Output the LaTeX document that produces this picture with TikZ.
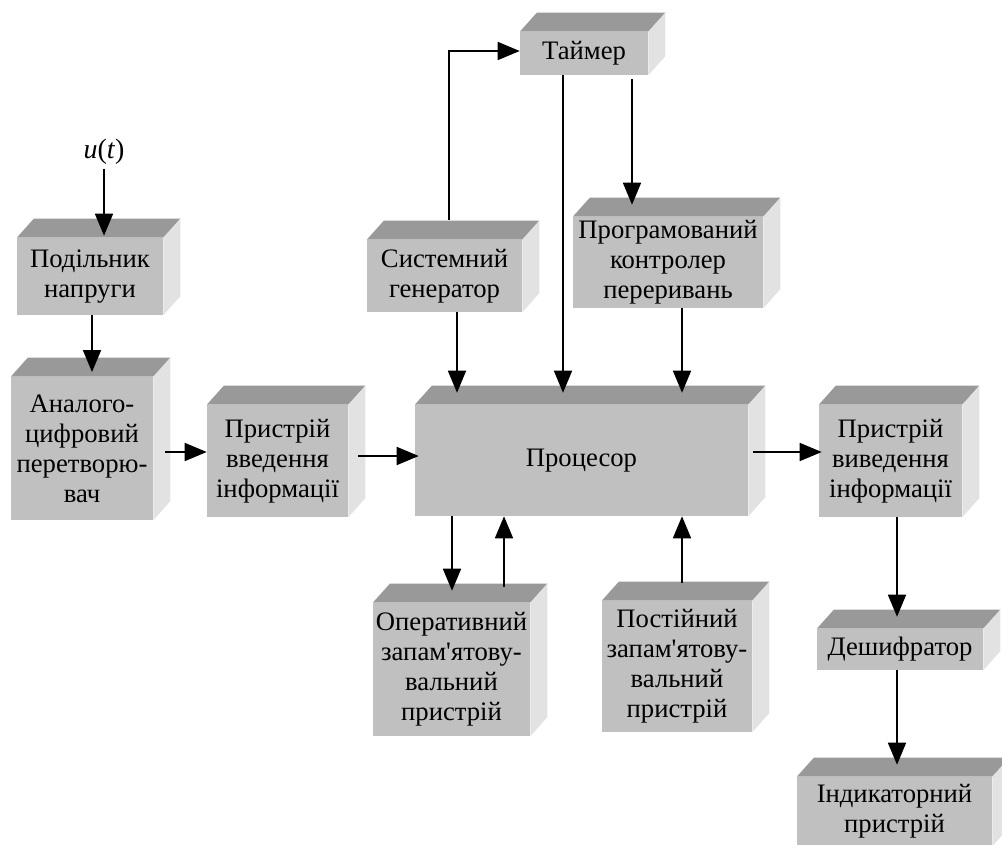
\documentclass[tikz,border=0pt]{standalone}
\usepackage{fontspec}
\setmainfont{Liberation Serif}
\usetikzlibrary{calc, arrows.meta}
\definecolor{frontgray}{HTML}{C0C0C0}
\definecolor{topgray}{HTML}{999999}
\definecolor{sidegray}{HTML}{E2E2E2}
\tikzset{
  % Set arrowhead
  >={Triangle[length=16.5pt, width=13.5pt]},
  % front face of a block, size in pixels
  blok/.style={fill=frontgray, inner sep=0pt, align=center,
    font=\fontsize{20}{22.5}\selectfont},
  wh/.style 2 args={minimum width=#1*0.75pt, minimum height=#2*0.75pt},
  % Connectors
  link/.style={->, line width=1.2pt},
  % Connector ending in a top face
  link top/.style={link, shorten >=9pt},
}
\begin{document}
\begin{tikzpicture}[x=0.75pt, y=-0.75pt]
  \useasboundingbox (0,0) rectangle (1002,845);

  \node[blok, wh={146}{77}] (pod) at (90,276.5) {Подільник\\напруги};
  \node[blok, wh={142}{143}] (adc) at (82,448.5) {Аналого-\\цифровий\\перетворю-\\вач};
  \node[blok, wh={141}{112}] (vvid) at (277.5,461) {Пристрій\\введення\\інформації};
  \node[blok, wh={333}{111}] (proc) at (581.5,460.5) {Процесор};
  \node[blok, wh={143}{112}] (vyv) at (890.5,461) {Пристрій\\виведення\\інформації};
  \node[blok, wh={128}{43}] (timer) at (584,53.5) {Таймер};
  \node[blok, wh={155}{72}] (gen) at (444.5,276) {Системний\\генератор};
  \node[blok, wh={190}{91}] (pkp) at (668,262.5) {Програмований\\контролер\\переривань};
  \node[blok, wh={157}{133}] (ozp) at (451.5,669.5) {Оперативний\\запам\textquotesingle ятову-\\вальний\\пристрій};
  \node[blok, wh={150}{131}] (pzp) at (677,666.5) {Постійний\\запам\textquotesingle ятову-\\вальний\\пристрій};
  \node[blok, wh={166}{41}] (desh) at (900,649.5) {Дешифратор};
  \node[blok, wh={195}{69}] (ind) at (894.5,811.5) {Індикаторний\\пристрій};

  % top and side faces
  \foreach \blk in {pod,adc,vvid,proc,vyv,timer,gen,pkp,ozp,pzp,desh,ind}{
    \fill[topgray] (\blk.north west) -- ++(17,-19)
      -- ([shift={(17,-19)}]\blk.north east) -- (\blk.north east) -- cycle;
    \fill[sidegray] (\blk.north east) -- ++(17,-19)
      -- ([shift={(17,-19)}]\blk.south east) -- (\blk.south east) -- cycle;
  }

  \node[font=\fontsize{21}{22.5}\selectfont] (u) at (104,152) {\textit{u}(\textit{t})};

  % line positions
  \coordinate (xpod) at (92,0);
  \coordinate (xgu) at (449,0);
  \coordinate (xg) at (457,0);
  \coordinate (xt1) at (563,0);
  \coordinate (xt2) at (632,0);
  \coordinate (xk) at (682,0);
  \coordinate (xo1) at (452,0);
  \coordinate (xo2) at (504,0);
  \coordinate (xv) at (897,0);
  \coordinate (ya) at (0,452);
  \coordinate (yv) at (0,456);
  \coordinate (yt) at (0,51);

  \draw[link, shorten >=1.5pt] (u.south) -- (u.south |- pod.north);
  \draw[link, shorten >=3.5pt] (pod.south -| xpod) -- (adc.north -| xpod);
  \draw[link] ($(adc.east |- ya)+(12,0)$) -- (vvid.west |- ya);
  \draw[link] ($(vvid.east |- yv)+(10,0)$) -- ($(proc.west |- yv)+(4,0)$);
  \draw[link] ($(gen.north -| xgu)+(0,-20)$) -- (xgu |- yt) -- (timer.west |- yt);
  \draw[link top] (gen.south -| xg) -- (proc.north -| xg);
  \draw[link top] (timer.south -| xt1) -- (proc.north -| xt1);
  \draw[link top] ($(timer.south -| xt2)+(0,4)$) -- (pkp.north -| xt2);
  \draw[link top] (pkp.south -| xk) -- (proc.north -| xk);
  \draw[link] ($(proc.east |- ya)+(5,0)$) -- ($(vyv.west |- ya)+(3,0)$);
  \draw[link top] (proc.south -| xo1) -- (ozp.north -| xo1);
  \draw[link] ($(ozp.north -| xo2)+(0,-16)$) -- (proc.south -| xo2);
  \draw[link] ($(pzp.north -| xk)+(0,-18)$) -- (proc.south -| xk);
  \draw[link top] (vyv.south -| xv) -- (desh.north -| xv);
  \draw[link top] (desh.south -| xv) -- (ind.north -| xv);
\end{tikzpicture}
\end{document}
